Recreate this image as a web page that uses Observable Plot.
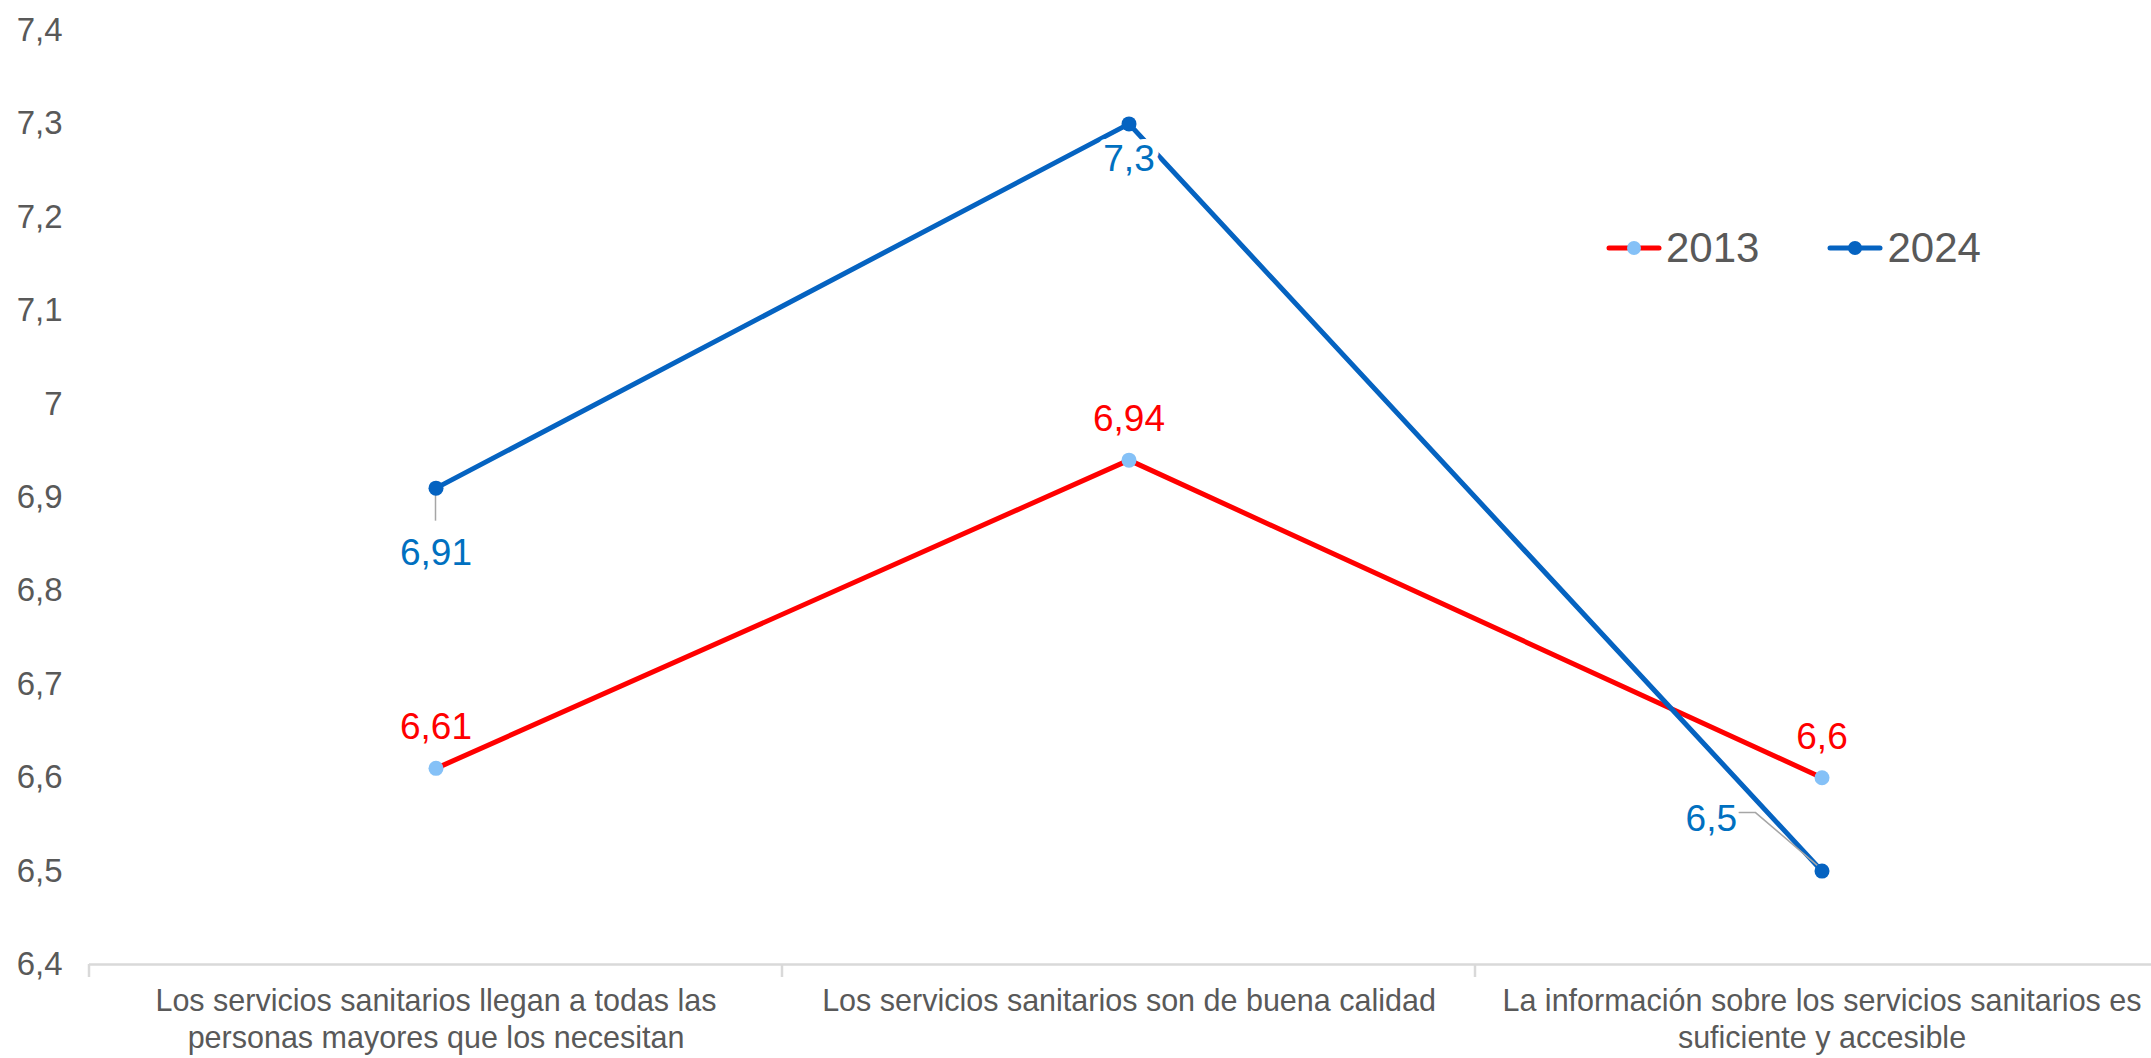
<!DOCTYPE html>
<html><head><meta charset="utf-8">
<script src="https://cdn.jsdelivr.net/npm/d3@7"></script>
<script src="https://cdn.jsdelivr.net/npm/@observablehq/plot@0.6"></script>
<style>
body{margin:0;background:#fff;font-family:"Liberation Sans",Arial,sans-serif;}
#wrap{position:relative;width:2151px;height:1058px;overflow:hidden;}
#legend{position:absolute;top:224px;left:1606px;display:flex;align-items:center;font-size:42px;color:#595959;line-height:48px;}
#legend .item{display:flex;align-items:center;margin-right:68px;}
#legend svg{margin-right:4px;}
</style></head><body><div id="wrap"><div id="legend"></div></div>
<script>
const categories = [
  "Los servicios sanitarios llegan a todas las\npersonas mayores que los necesitan",
  "Los servicios sanitarios son de buena calidad",
  "La información sobre los servicios sanitarios es\nsuficiente y accesible"
];
const series = ["2013", "2024"];
const values2013 = [6.61, 6.94, 6.6];
const values2024 = [6.91, 7.3, 6.5];
const yTicks = [6.4, 6.5, 6.6, 6.7, 6.8, 6.9, 7.0, 7.1, 7.2, 7.3, 7.4];

const lineColors = {"2013": "#ff0000", "2024": "#0563c1"};
const dotColors = {"2013": "#85c1f7", "2024": "#0563c1"};
const labelColors = {"2013": "#ff0000", "2024": "#0070c0"};

const fmt = d => String(+(+d).toFixed(2)).replace(".", ",");
const d2013 = categories.map((c, i) => ({cat: c, series: "2013", value: values2013[i], i}));
const d2024 = categories.map((c, i) => ({cat: c, series: "2024", value: values2024[i], i}));

const font = "Liberation Sans, Arial, sans-serif";
const halo = {stroke: "white", strokeWidth: 12, strokeLinejoin: "round"};

const plot = Plot.plot({
  width: 2151, height: 1058,
  marginLeft: 89, marginRight: -17, marginTop: 30, marginBottom: 94,
  style: {fontFamily: font, background: "white", overflow: "visible"},
  x: {type: "band", domain: categories, padding: 0, label: null},
  y: {domain: [6.4, 7.4], label: null},
  marks: [
    Plot.axisY(yTicks, {tickSize: 0, tickPadding: 27, tickFormat: fmt, fontSize: 33, fill: "#595959"}),
    Plot.axisX({tickSize: 0, tickPadding: 20, fontSize: 30.5, fill: "#595959", lineHeight: 1.22, lineAnchor: "top"}),
    Plot.ruleY([6.4], {stroke: "#d9d9d9", strokeWidth: 2.5}),
    Plot.line(d2013, {x: "cat", y: "value", stroke: lineColors["2013"], strokeWidth: 5}),
    Plot.line(d2024, {x: "cat", y: "value", stroke: lineColors["2024"], strokeWidth: 5}),
    Plot.dot(d2013, {x: "cat", y: "value", r: 7.5, fill: dotColors["2013"]}),
    Plot.dot(d2024, {x: "cat", y: "value", r: 7.5, fill: dotColors["2024"]}),
    Plot.text(d2013, {x: "cat", y: "value", text: d => fmt(d.value), dy: -41, fontSize: 37, fill: labelColors["2013"], ...halo}),
    Plot.text(d2024.filter(d => d.i === 0), {x: "cat", y: "value", text: d => fmt(d.value), dy: 65, fontSize: 37, fill: labelColors["2024"], ...halo}),
    Plot.text(d2024.filter(d => d.i === 1), {x: "cat", y: "value", text: d => fmt(d.value), dy: 35, fontSize: 37, fill: labelColors["2024"], ...halo}),
    Plot.text(d2024.filter(d => d.i === 2), {x: "cat", y: "value", text: d => fmt(d.value), dx: -85, dy: -52, textAnchor: "end", fontSize: 37, fill: labelColors["2024"], ...halo})
  ]
});

document.getElementById("wrap").prepend(plot);

const xs = plot.scale("x"), ys = plot.scale("y");
const svg = d3.select(plot);
const y0 = ys.apply(6.4);
svg.append("g").selectAll("line").data(categories).join("line")
  .attr("x1", c => xs.apply(c)).attr("x2", c => xs.apply(c))
  .attr("y1", y0).attr("y2", y0 + 13)
  .attr("stroke", "#d9d9d9").attr("stroke-width", 2.5);

const cx = c => xs.apply(c) + xs.bandwidth / 2;
const lead = svg.append("g").attr("fill", "none").attr("stroke", "#a6a6a6").attr("stroke-width", 1.5);
{
  const p = d2024[0];
  const x = cx(p.cat), y = ys.apply(p.value);
  lead.append("path").attr("d", `M${x},${y + 6}L${x},${y + 33}`);
}
{
  const p = d2024[2];
  const x = cx(p.cat), y = ys.apply(p.value);
  lead.append("path").attr("d", `M${x - 83},${y - 58}L${x - 66},${y - 58}L${x - 4},${y - 5}`);
}
svg.selectAll("g[aria-label=dot]").raise();
svg.selectAll("g[aria-label=text]").raise();

const legend = d3.select("#legend");
series.forEach(s => {
  const item = legend.append("div").attr("class", "item");
  const sw = item.append("svg").attr("width", 56).attr("height", 16);
  sw.append("line").attr("x1", 3).attr("x2", 53).attr("y1", 8).attr("y2", 8)
    .attr("stroke", lineColors[s]).attr("stroke-width", 5).attr("stroke-linecap", "round");
  sw.append("circle").attr("cx", 28).attr("cy", 8).attr("r", 7).attr("fill", dotColors[s]);
  item.append("span").text(s);
});
</script></body></html>
